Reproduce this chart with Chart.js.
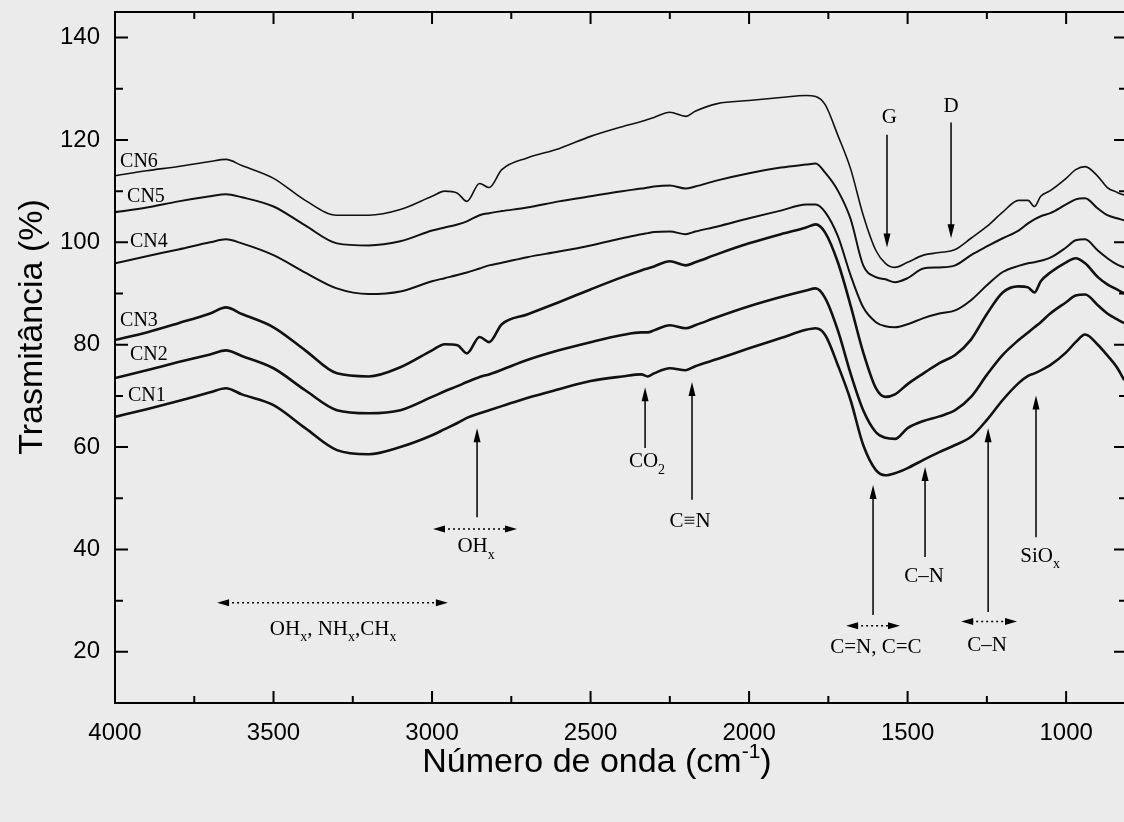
<!DOCTYPE html>
<html><head><meta charset="utf-8">
<script src="https://cdn.jsdelivr.net/npm/chart.js@4.4.1/dist/chart.umd.min.js"></script>
<style>
html,body{margin:0;padding:0;background:#ebebeb;overflow:hidden;width:1124px;height:822px;}
#wrap{position:absolute;left:0;top:0;width:1132px;height:822px;}
</style></head><body>
<div id="wrap"><canvas id="c"></canvas></div>
<script>
// ---- data (wavenumber in cm-1, transmittance in %) ----
const wavenumbers = [4000,3900,3800,3700,3650,3600,3500,3400,3300,3200,3100,3000,2960,2920,2890,2850,2820,2780,2700,2600,2500,2400,2340,2320,2300,2250,2200,2170,2100,2000,1900,1820,1790,1760,1720,1680,1640,1600,1570,1540,1500,1450,1400,1350,1300,1250,1200,1150,1120,1100,1080,1050,1000,970,940,900,870,840,817];
const cn6 = [113.0,114.0,114.8,115.8,116.2,115.0,112.5,108.2,105.3,105.3,106.4,109.0,110.0,109.6,108.0,111.5,110.7,114.2,116.5,118.3,120.7,122.6,123.6,124.0,124.4,125.4,124.6,125.6,127.1,127.7,128.3,128.7,128.5,126.9,120.9,114.4,105.3,98.4,95.9,95.1,96.1,97.5,98.0,98.6,100.8,103.1,105.9,108.2,108.2,107.0,109.0,110.1,112.5,114.2,114.8,112.9,110.7,109.8,109.2];
const cn5 = [105.9,106.8,108.0,109.0,109.4,108.8,107.0,103.3,99.8,99.4,100.2,102.3,102.9,103.5,104.1,105.3,105.7,106.1,106.8,108.0,109.0,110.0,110.5,110.7,110.9,111.1,110.5,110.9,112.1,113.5,114.6,115.2,115.4,113.6,110.1,104.6,95.5,93.2,92.8,92.2,93.0,94.9,95.1,95.5,97.5,99.2,100.8,102.3,103.7,104.5,105.1,105.7,107.4,108.4,108.6,106.6,105.3,104.7,104.3];
const cn4 = [95.9,97.3,98.6,100.0,100.6,99.8,97.5,94.1,91.0,89.9,90.4,92.4,93.0,93.6,94.1,94.9,95.5,96.0,97.1,98.2,99.4,100.8,101.6,101.8,102.0,102.1,101.6,102.1,103.1,104.7,106.2,107.4,107.4,105.9,101.2,93.6,87.3,84.4,83.6,83.4,84.0,85.2,86.1,86.7,88.7,91.6,94.2,95.4,95.9,96.1,96.4,97.0,99.0,100.4,100.6,98.4,96.9,95.7,95.1];
const cn3 = [80.9,82.4,84.2,86.1,87.3,86.0,83.4,78.9,74.4,73.8,75.6,78.9,80.1,79.9,78.3,81.5,80.5,84.0,85.9,88.3,90.8,93.2,94.5,94.9,95.3,96.3,95.5,96.1,97.7,99.8,101.6,102.9,103.5,101.9,96.1,87.7,78.5,71.5,69.8,70.3,72.3,74.4,76.4,78.0,81.0,86.0,90.2,91.4,91.2,90.2,92.4,94.1,96.1,96.9,95.9,93.2,91.8,90.8,90.0];
const cn2 = [73.5,75.0,76.6,78.1,78.9,77.8,75.4,71.1,67.2,66.6,67.2,69.8,70.9,71.9,72.7,73.7,74.2,75.1,77.0,78.9,80.5,81.9,82.4,82.4,82.8,83.8,83.2,83.8,85.4,87.5,89.3,90.6,91.0,89.1,82.8,74.4,67.2,62.9,61.8,61.6,63.7,65.1,66.0,67.2,69.8,74.1,78.0,80.9,82.4,83.4,84.4,86.1,88.3,89.6,89.8,87.7,86.1,85.0,84.2];
const cn1 = [65.9,67.4,69.0,70.7,71.5,70.3,68.2,63.7,59.4,58.6,60.0,62.3,63.5,64.7,65.7,66.6,67.2,68.0,69.6,71.3,72.9,73.8,74.2,73.8,74.4,75.4,75.0,75.8,77.2,79.3,81.3,82.9,83.2,81.9,76.0,69.2,60.4,55.5,54.5,54.9,55.9,57.5,59.0,60.4,62.0,65.3,69.2,72.5,73.9,74.4,75.0,76.0,78.5,80.5,82.0,80.0,77.9,75.6,73.1];
const seriesNames = ['CN6','CN5','CN4','CN3','CN2','CN1'];
const seriesValues = [cn6,cn5,cn4,cn3,cn2,cn1];
const xTickLabels = [4000,3500,3000,2500,2000,1500,1000];
const yTickLabels = [20,40,60,80,100,120,140];
// curve name labels: [name, wavenumber(left), transmittance]
const curveLabelPos = [['CN6',3984,115.8],['CN5',3962,109.0],['CN4',3953,100.2],['CN3',3984,84.6],['CN2',3953,78.0],['CN1',3959,70.1]];
// band arrows: [wavenumber, from, to(head)]
const bandArrows = [[1565,121,99],[1363,123.4,100.8],[2858,46.3,63.7],[2328,59.8,71.7],[2180,49.7,72.7],[1609,27.2,52.6],[1445,38.5,56.1],[1246,27.8,63.7],[1095,42.4,70.1]];
// range arrows: [wavenumber A, wavenumber B, transmittance]
const rangeArrows = [[2997,2732,44.0],[3678,2950,29.6],[1694,1524,25.1],[1331,1155,25.9]];
// band labels: [segments, wavenumber(center), transmittance(center)]; segment = [text, isSub]
const bandLabels = [
  [[['G',0]],1558,124.4],
  [[['D',0]],1363,126.5],
  [[['OH',0],['x',1]],2861,40.5],
  [[['CO',0],['2',1]],2322,57.1],
  [[['C\u2261N',0]],2186,45.4],
  [[['OH',0],['x',1],[', NH',0],['x',1],[',CH',0],['x',1]],3312,24.3],
  [[['C=N, C=C',0]],1600,20.8],
  [[['C\u2013N',0]],1448,34.8],
  [[['C\u2013N',0]],1249,21.2],
  [[['SiO',0],['x',1]],1082,38.7]
];

const SANS = 'Liberation Sans, Arial, Helvetica, sans-serif';
const SERIF = 'Liberation Serif, Times New Roman, serif';

const widths = [1.6,2.0,2.0,2.6,2.6,2.6];
const datasets = seriesNames.map((n,i)=>({
  label:n,
  data: wavenumbers.map((w,j)=>({x:w,y:seriesValues[i][j]})),
  borderColor:'#111',
  borderWidth:widths[i],
  pointRadius:0,
  fill:false,
  cubicInterpolationMode:'monotone'
}));

function drawArrowHead(ctx,x1,y1,x2,y2,len,half){
  const a=Math.atan2(y2-y1,x2-x1);
  ctx.beginPath();
  ctx.moveTo(x2,y2);
  ctx.lineTo(x2-len*Math.cos(a)+half*Math.sin(a), y2-len*Math.sin(a)-half*Math.cos(a));
  ctx.lineTo(x2-len*Math.cos(a)-half*Math.sin(a), y2-len*Math.sin(a)+half*Math.cos(a));
  ctx.closePath();ctx.fill();
}

const deco = {
  id:'deco',
  afterDraw(chart){
    const ctx=chart.ctx, a=chart.chartArea, xs=chart.scales.x, ys=chart.scales.y;
    ctx.save();
    ctx.strokeStyle='#000';ctx.fillStyle='#000';
    // frame
    ctx.lineWidth=2;
    ctx.strokeRect(a.left,a.top,a.right-a.left,a.bottom-a.top);
    // ticks
    for(let v=4000; v>=xs.min; v-=250){
      const p=xs.getPixelForValue(v); const L=(v%500===0)?12:7;
      ctx.beginPath();ctx.moveTo(p,a.bottom);ctx.lineTo(p,a.bottom-L);
      ctx.moveTo(p,a.top);ctx.lineTo(p,a.top+L);ctx.stroke();
    }
    for(let v=10; v<=ys.max; v+=10){
      const p=ys.getPixelForValue(v); const L=(v%20===0)?13:8;
      ctx.beginPath();ctx.moveTo(a.left,p);ctx.lineTo(a.left+L,p);
      ctx.moveTo(a.right,p);ctx.lineTo(a.right-L,p);ctx.stroke();
    }
    // axis titles
    const TF='34px '+SANS, SF='21px '+SANS;
    ctx.textBaseline='alphabetic';
    ctx.font=TF;
    const t1='N\u00famero de onda (cm', sup='-1', t2=')';
    const w1=ctx.measureText(t1).width, w3=ctx.measureText(t2).width;
    ctx.font=SF; const w2=ctx.measureText(sup).width;
    let x0=597-(w1+w2+w3)/2, by=772;
    ctx.font=TF; ctx.textAlign='left'; ctx.fillText(t1,x0,by);
    ctx.font=SF; ctx.fillText(sup,x0+w1,by-14);
    ctx.font=TF; ctx.fillText(t2,x0+w1+w2,by);
    ctx.save(); ctx.translate(42,327); ctx.rotate(-Math.PI/2);
    ctx.textAlign='center'; ctx.font=TF; ctx.fillText('Trasmit\u00e2ncia (%)',0,0); ctx.restore();
    // curve labels
    ctx.font='20px '+SERIF; ctx.textAlign='left'; ctx.textBaseline='middle';
    curveLabelPos.forEach(([n,w,t])=>ctx.fillText(n,xs.getPixelForValue(w),ys.getPixelForValue(t)));
    // arrows
    ctx.lineWidth=1.5;
    bandArrows.forEach(([w,f,t])=>{
      const x=xs.getPixelForValue(w), y1=ys.getPixelForValue(f), y2=ys.getPixelForValue(t);
      ctx.beginPath();ctx.moveTo(x,y1);ctx.lineTo(x,y2+(y2>y1?-8:8));ctx.stroke();
      drawArrowHead(ctx,x,y1,x,y2,14,3.5);
    });
    rangeArrows.forEach(([wa,wb,t])=>{
      const xa=xs.getPixelForValue(wa), xb=xs.getPixelForValue(wb), y=ys.getPixelForValue(t);
      ctx.setLineDash([2,3]);ctx.lineWidth=1.5;
      ctx.beginPath();ctx.moveTo(xa+10,y);ctx.lineTo(xb-10,y);ctx.stroke();
      ctx.setLineDash([]);
      drawArrowHead(ctx,xb,y,xa,y,12,3.5);
      drawArrowHead(ctx,xa,y,xb,y,12,3.5);
    });
    // band labels
    bandLabels.forEach(([segs,w,t])=>{
      let tot=0; const ws=segs.map(([s,sub])=>{ctx.font=(sub?'14px ':'21px ')+SERIF; const m=ctx.measureText(s).width; tot+=m; return m;});
      let x=xs.getPixelForValue(w)-tot/2; const y=ys.getPixelForValue(t);
      segs.forEach(([s,sub],i)=>{ctx.font=(sub?'14px ':'21px ')+SERIF; ctx.fillText(s,x,sub?y+8:y); x+=ws[i];});
    });
    ctx.restore();
  }
};

new Chart(document.getElementById('c'),{
  type:'line',
  data:{datasets},
  options:{
    responsive:true, maintainAspectRatio:false, animation:false,
    layout:{padding:{top:12,right:5,left:0,bottom:0}},
    plugins:{legend:{display:false},tooltip:{enabled:false}},
    scales:{
      x:{type:'linear',reverse:true,min:808,max:4000,
        afterBuildTicks:s=>{s.ticks=xTickLabels.map(v=>({value:v}));},
        afterFit:s=>{s.height=119;s.paddingLeft=0;s.paddingRight=0;},
        ticks:{font:{family:SANS,size:24},color:'#000',padding:16,maxRotation:0,autoSkip:false,callback:v=>String(v)},
        grid:{display:false,drawTicks:false},border:{display:false}},
      y:{type:'linear',min:10,max:145,
        afterBuildTicks:s=>{s.ticks=yTickLabels.map(v=>({value:v}));},
        afterFit:s=>{s.width=115;s.paddingTop=0;s.paddingBottom=0;},
        ticks:{font:{family:SANS,size:24},color:'#000',padding:15,callback:v=>String(v)},
        grid:{display:false,drawTicks:false},border:{display:false}}
    }
  },
  plugins:[deco]
});
</script>
</body></html>
